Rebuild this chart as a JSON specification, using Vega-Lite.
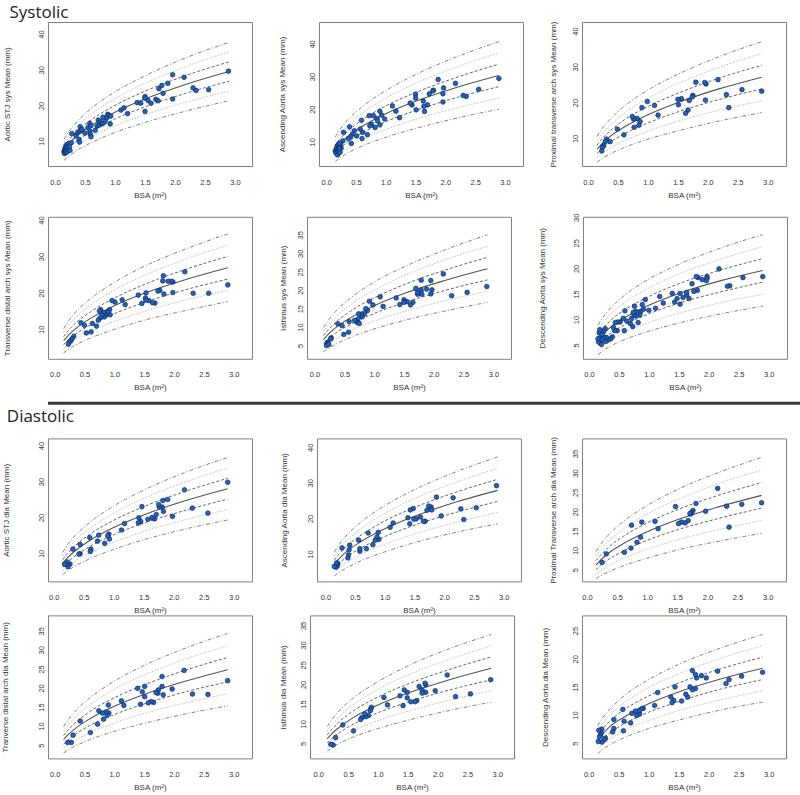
{
"$schema": "https://vega.github.io/schema/vega-lite/v6.json",
"padding": {"top": 3, "left": 0, "right": 0, "bottom": 0},
"spacing": 2.7,
"datasets": {
"curves": [
{"p":"P1","x":0.15,"u3":10.5,"u2":9.5,"u1":8.5,"m":7.6,"l1":6.6,"l2":5.6,"l3":4.6},
{"p":"P1","x":0.22,"u3":12.4,"u2":11.3,"u1":10.1,"m":9.0,"l1":7.9,"l2":6.8,"l3":5.6},
{"p":"P1","x":0.35,"u3":15.1,"u2":13.8,"u1":12.5,"m":11.2,"l1":9.8,"l2":8.5,"l3":7.2},
{"p":"P1","x":0.6,"u3":19.1,"u2":17.5,"u1":15.9,"m":14.3,"l1":12.7,"l2":11.1,"l3":9.5},
{"p":"P1","x":1.0,"u3":23.8,"u2":21.9,"u1":20.0,"m":18.1,"l1":16.2,"l2":14.3,"l3":12.4},
{"p":"P1","x":1.5,"u3":28.3,"u2":26.2,"u1":24.0,"m":21.8,"l1":19.6,"l2":17.4,"l3":15.2},
{"p":"P1","x":2.2,"u3":33.5,"u2":31.0,"u1":28.5,"m":26.0,"l1":23.5,"l2":21.0,"l3":18.5},
{"p":"P1","x":2.9,"u3":37.7,"u2":35.0,"u1":32.2,"m":29.5,"l1":26.8,"l2":24.0,"l3":21.3},
{"p":"P2","x":0.15,"u3":11.5,"u2":10.2,"u1":9.0,"m":7.8,"l1":6.5,"l2":5.3,"l3":4.0},
{"p":"P2","x":0.22,"u3":13.5,"u2":12.1,"u1":10.7,"m":9.3,"l1":7.8,"l2":6.4,"l3":5.0},
{"p":"P2","x":0.35,"u3":16.5,"u2":14.8,"u1":13.1,"m":11.5,"l1":9.8,"l2":8.1,"l3":6.5},
{"p":"P2","x":0.6,"u3":20.7,"u2":18.7,"u1":16.7,"m":14.7,"l1":12.7,"l2":10.7,"l3":8.7},
{"p":"P2","x":1.0,"u3":25.7,"u2":23.4,"u1":21.0,"m":18.6,"l1":16.2,"l2":13.8,"l3":11.4},
{"p":"P2","x":1.5,"u3":30.6,"u2":27.9,"u1":25.1,"m":22.4,"l1":19.6,"l2":16.9,"l3":14.1},
{"p":"P2","x":2.2,"u3":36.1,"u2":33.0,"u1":29.8,"m":26.7,"l1":23.6,"l2":20.4,"l3":17.3},
{"p":"P2","x":2.9,"u3":40.7,"u2":37.2,"u1":33.8,"m":30.3,"l1":26.9,"l2":23.4,"l3":20.0},
{"p":"P3","x":0.15,"u3":10.5,"u2":9.3,"u1":8.1,"m":6.9,"l1":5.8,"l2":4.6,"l3":3.4},
{"p":"P3","x":0.22,"u3":12.4,"u2":11.0,"u1":9.6,"m":8.3,"l1":6.9,"l2":5.6,"l3":4.2},
{"p":"P3","x":0.35,"u3":15.0,"u2":13.4,"u1":11.8,"m":10.3,"l1":8.7,"l2":7.1,"l3":5.5},
{"p":"P3","x":0.6,"u3":18.9,"u2":17.0,"u1":15.1,"m":13.1,"l1":11.2,"l2":9.3,"l3":7.4},
{"p":"P3","x":1.0,"u3":23.5,"u2":21.2,"u1":18.9,"m":16.6,"l1":14.3,"l2":12.0,"l3":9.8},
{"p":"P3","x":1.5,"u3":27.9,"u2":25.3,"u1":22.6,"m":20.0,"l1":17.4,"l2":14.8,"l3":12.1},
{"p":"P3","x":2.2,"u3":32.9,"u2":29.9,"u1":26.9,"m":23.9,"l1":20.9,"l2":17.9,"l3":14.9},
{"p":"P3","x":2.9,"u3":37.0,"u2":33.7,"u1":30.4,"m":27.1,"l1":23.8,"l2":20.5,"l3":17.2},
{"p":"P4","x":0.15,"u3":10.2,"u2":9.1,"u1":8.0,"m":6.9,"l1":5.8,"l2":4.7,"l3":3.5},
{"p":"P4","x":0.22,"u3":12.0,"u2":10.8,"u1":9.5,"m":8.2,"l1":7.0,"l2":5.7,"l3":4.4},
{"p":"P4","x":0.35,"u3":14.7,"u2":13.2,"u1":11.7,"m":10.2,"l1":8.7,"l2":7.2,"l3":5.7},
{"p":"P4","x":0.6,"u3":18.4,"u2":16.6,"u1":14.8,"m":13.0,"l1":11.2,"l2":9.4,"l3":7.6},
{"p":"P4","x":1.0,"u3":22.9,"u2":20.8,"u1":18.6,"m":16.5,"l1":14.3,"l2":12.2,"l3":10.0},
{"p":"P4","x":1.5,"u3":27.3,"u2":24.8,"u1":22.3,"m":19.9,"l1":17.4,"l2":14.9,"l3":12.5},
{"p":"P4","x":2.2,"u3":32.1,"u2":29.3,"u1":26.5,"m":23.7,"l1":20.9,"l2":18.1,"l3":15.2},
{"p":"P4","x":2.9,"u3":36.2,"u2":33.1,"u1":30.0,"m":26.9,"l1":23.8,"l2":20.7,"l3":17.6},
{"p":"P5","x":0.15,"u3":9.9,"u2":8.8,"u1":7.7,"m":6.6,"l1":5.5,"l2":4.4,"l3":3.3},
{"p":"P5","x":0.22,"u3":11.6,"u2":10.4,"u1":9.1,"m":7.9,"l1":6.6,"l2":5.4,"l3":4.1},
{"p":"P5","x":0.35,"u3":14.2,"u2":12.7,"u1":11.2,"m":9.8,"l1":8.3,"l2":6.8,"l3":5.3},
{"p":"P5","x":0.6,"u3":17.8,"u2":16.0,"u1":14.3,"m":12.5,"l1":10.7,"l2":9.0,"l3":7.2},
{"p":"P5","x":1.0,"u3":22.2,"u2":20.0,"u1":17.9,"m":15.8,"l1":13.7,"l2":11.6,"l3":9.5},
{"p":"P5","x":1.5,"u3":26.3,"u2":23.9,"u1":21.5,"m":19.1,"l1":16.6,"l2":14.2,"l3":11.8},
{"p":"P5","x":2.2,"u3":31.0,"u2":28.3,"u1":25.5,"m":22.7,"l1":20.0,"l2":17.2,"l3":14.4},
{"p":"P5","x":2.9,"u3":35.0,"u2":31.9,"u1":28.9,"m":25.8,"l1":22.8,"l2":19.7,"l3":16.7},
{"p":"P6","x":0.15,"u3":8.9,"u2":7.9,"u1":7.0,"m":6.0,"l1":5.0,"l2":4.1,"l3":3.1},
{"p":"P6","x":0.22,"u3":10.2,"u2":9.1,"u1":8.1,"m":7.0,"l1":5.9,"l2":4.8,"l3":3.8},
{"p":"P6","x":0.35,"u3":12.1,"u2":10.9,"u1":9.7,"m":8.4,"l1":7.2,"l2":5.9,"l3":4.7},
{"p":"P6","x":0.6,"u3":14.8,"u2":13.3,"u1":11.9,"m":10.4,"l1":9.0,"l2":7.5,"l3":6.1},
{"p":"P6","x":1.0,"u3":17.9,"u2":16.2,"u1":14.5,"m":12.8,"l1":11.1,"l2":9.4,"l3":7.7},
{"p":"P6","x":1.5,"u3":20.8,"u2":18.9,"u1":17.0,"m":15.1,"l1":13.2,"l2":11.2,"l3":9.3},
{"p":"P6","x":2.2,"u3":24.0,"u2":21.8,"u1":19.7,"m":17.6,"l1":15.4,"l2":13.3,"l3":11.1},
{"p":"P6","x":2.9,"u3":26.6,"u2":24.3,"u1":21.9,"m":19.6,"l1":17.3,"l2":14.9,"l3":12.6},
{"p":"P7","x":0.15,"u3":10.3,"u2":9.3,"u1":8.2,"m":7.2,"l1":6.1,"l2":5.1,"l3":4.0},
{"p":"P7","x":0.22,"u3":12.1,"u2":10.9,"u1":9.7,"m":8.6,"l1":7.4,"l2":6.2,"l3":5.0},
{"p":"P7","x":0.35,"u3":14.8,"u2":13.4,"u1":12.0,"m":10.6,"l1":9.2,"l2":7.8,"l3":6.4},
{"p":"P7","x":0.6,"u3":18.6,"u2":16.9,"u1":15.3,"m":13.6,"l1":11.9,"l2":10.2,"l3":8.5},
{"p":"P7","x":1.0,"u3":23.2,"u2":21.2,"u1":19.2,"m":17.2,"l1":15.2,"l2":13.1,"l3":11.1},
{"p":"P7","x":1.5,"u3":27.6,"u2":25.3,"u1":23.0,"m":20.7,"l1":18.4,"l2":16.1,"l3":13.8},
{"p":"P7","x":2.2,"u3":32.6,"u2":29.9,"u1":27.3,"m":24.7,"l1":22.0,"l2":19.4,"l3":16.8},
{"p":"P7","x":2.9,"u3":36.7,"u2":33.8,"u1":30.9,"m":28.0,"l1":25.1,"l2":22.2,"l3":19.3},
{"p":"P8","x":0.15,"u3":10.5,"u2":9.4,"u1":8.3,"m":7.2,"l1":6.0,"l2":4.9,"l3":3.8},
{"p":"P8","x":0.22,"u3":12.4,"u2":11.1,"u1":9.8,"m":8.5,"l1":7.2,"l2":6.0,"l3":4.7},
{"p":"P8","x":0.35,"u3":15.1,"u2":13.6,"u1":12.1,"m":10.6,"l1":9.1,"l2":7.5,"l3":6.0},
{"p":"P8","x":0.6,"u3":19.0,"u2":17.1,"u1":15.3,"m":13.5,"l1":11.7,"l2":9.9,"l3":8.1},
{"p":"P8","x":1.0,"u3":23.6,"u2":21.4,"u1":19.3,"m":17.1,"l1":14.9,"l2":12.8,"l3":10.6},
{"p":"P8","x":1.5,"u3":28.1,"u2":25.6,"u1":23.1,"m":20.6,"l1":18.1,"l2":15.6,"l3":13.2},
{"p":"P8","x":2.2,"u3":33.1,"u2":30.2,"u1":27.4,"m":24.6,"l1":21.7,"l2":18.9,"l3":16.1},
{"p":"P8","x":2.9,"u3":37.3,"u2":34.1,"u1":31.0,"m":27.9,"l1":24.8,"l2":21.7,"l3":18.5},
{"p":"P9","x":0.15,"u3":9.7,"u2":8.6,"u1":7.4,"m":6.2,"l1":5.0,"l2":3.9,"l3":2.7},
{"p":"P9","x":0.22,"u3":11.4,"u2":10.1,"u1":8.7,"m":7.4,"l1":6.1,"l2":4.7,"l3":3.4},
{"p":"P9","x":0.35,"u3":13.9,"u2":12.3,"u1":10.7,"m":9.2,"l1":7.6,"l2":6.0,"l3":4.4},
{"p":"P9","x":0.6,"u3":17.4,"u2":15.5,"u1":13.6,"m":11.7,"l1":9.8,"l2":7.9,"l3":6.0},
{"p":"P9","x":1.0,"u3":21.6,"u2":19.4,"u1":17.1,"m":14.8,"l1":12.6,"l2":10.3,"l3":8.0},
{"p":"P9","x":1.5,"u3":25.7,"u2":23.1,"u1":20.5,"m":17.9,"l1":15.3,"l2":12.7,"l3":10.1},
{"p":"P9","x":2.2,"u3":30.2,"u2":27.3,"u1":24.3,"m":21.3,"l1":18.3,"l2":15.4,"l3":12.4},
{"p":"P9","x":2.9,"u3":34.0,"u2":30.7,"u1":27.5,"m":24.2,"l1":20.9,"l2":17.7,"l3":14.4},
{"p":"P10","x":0.15,"u3":9.8,"u2":8.6,"u1":7.5,"m":6.4,"l1":5.2,"l2":4.1,"l3":2.9},
{"p":"P10","x":0.22,"u3":11.5,"u2":10.2,"u1":8.9,"m":7.6,"l1":6.3,"l2":5.0,"l3":3.7},
{"p":"P10","x":0.35,"u3":14.0,"u2":12.4,"u1":10.9,"m":9.4,"l1":7.9,"l2":6.3,"l3":4.8},
{"p":"P10","x":0.6,"u3":17.5,"u2":15.7,"u1":13.9,"m":12.0,"l1":10.2,"l2":8.3,"l3":6.5},
{"p":"P10","x":1.0,"u3":21.8,"u2":19.6,"u1":17.4,"m":15.2,"l1":13.0,"l2":10.8,"l3":8.6},
{"p":"P10","x":1.5,"u3":25.9,"u2":23.4,"u1":20.8,"m":18.3,"l1":15.8,"l2":13.3,"l3":10.7},
{"p":"P10","x":2.2,"u3":30.5,"u2":27.6,"u1":24.7,"m":21.8,"l1":19.0,"l2":16.1,"l3":13.2},
{"p":"P10","x":2.9,"u3":34.3,"u2":31.1,"u1":28.0,"m":24.8,"l1":21.6,"l2":18.5,"l3":15.3},
{"p":"P11","x":0.15,"u3":9.3,"u2":8.2,"u1":7.2,"m":6.2,"l1":5.1,"l2":4.1,"l3":3.1},
{"p":"P11","x":0.22,"u3":10.9,"u2":9.7,"u1":8.5,"m":7.4,"l1":6.2,"l2":5.0,"l3":3.8},
{"p":"P11","x":0.35,"u3":13.3,"u2":11.9,"u1":10.5,"m":9.1,"l1":7.7,"l2":6.3,"l3":5.0},
{"p":"P11","x":0.6,"u3":16.7,"u2":15.0,"u1":13.4,"m":11.7,"l1":10.0,"l2":8.4,"l3":6.7},
{"p":"P11","x":1.0,"u3":20.7,"u2":18.7,"u1":16.8,"m":14.8,"l1":12.8,"l2":10.8,"l3":8.8},
{"p":"P11","x":1.5,"u3":24.7,"u2":22.4,"u1":20.1,"m":17.8,"l1":15.5,"l2":13.2,"l3":10.9},
{"p":"P11","x":2.2,"u3":29.1,"u2":26.4,"u1":23.8,"m":21.2,"l1":18.6,"l2":16.0,"l3":13.4},
{"p":"P11","x":2.9,"u3":32.7,"u2":29.8,"u1":27.0,"m":24.1,"l1":21.2,"l2":18.4,"l3":15.5},
{"p":"P12","x":0.15,"u3":8.1,"u2":7.3,"u1":6.4,"m":5.6,"l1":4.8,"l2":4.0,"l3":3.1},
{"p":"P12","x":0.22,"u3":9.3,"u2":8.4,"u1":7.4,"m":6.5,"l1":5.6,"l2":4.7,"l3":3.8},
{"p":"P12","x":0.35,"u3":11.0,"u2":10.0,"u1":8.9,"m":7.9,"l1":6.8,"l2":5.7,"l3":4.7},
{"p":"P12","x":0.6,"u3":13.5,"u2":12.2,"u1":11.0,"m":9.7,"l1":8.5,"l2":7.3,"l3":6.0},
{"p":"P12","x":1.0,"u3":16.3,"u2":14.9,"u1":13.4,"m":12.0,"l1":10.5,"l2":9.0,"l3":7.6},
{"p":"P12","x":1.5,"u3":19.0,"u2":17.3,"u1":15.7,"m":14.1,"l1":12.4,"l2":10.8,"l3":9.1},
{"p":"P12","x":2.2,"u3":21.9,"u2":20.1,"u1":18.2,"m":16.4,"l1":14.6,"l2":12.7,"l3":10.9},
{"p":"P12","x":2.9,"u3":24.3,"u2":22.3,"u1":20.3,"m":18.3,"l1":16.3,"l2":14.3,"l3":12.3}
],
"pts": [
{"p":"P1","x":0.15,"y":7.0},{"p":"P1","x":0.16,"y":6.5},{"p":"P1","x":0.16,"y":7.5},{"p":"P1","x":0.17,"y":8.0},{"p":"P1","x":0.17,"y":6.8},{"p":"P1","x":0.18,"y":7.2},{"p":"P1","x":0.18,"y":8.6},{"p":"P1","x":0.19,"y":7.8},{"p":"P1","x":0.2,"y":9.0},{"p":"P1","x":0.2,"y":6.9},{"p":"P1","x":0.21,"y":8.2},{"p":"P1","x":0.22,"y":7.5},{"p":"P1","x":0.23,"y":9.2},{"p":"P1","x":0.24,"y":8.5},{"p":"P1","x":0.25,"y":7.4},{"p":"P1","x":0.27,"y":9.5},{"p":"P1","x":0.28,"y":12.1},{"p":"P1","x":0.35,"y":11.5},{"p":"P1","x":0.38,"y":12.5},{"p":"P1","x":0.4,"y":10.5},{"p":"P1","x":0.41,"y":9.7},{"p":"P1","x":0.42,"y":14.0},{"p":"P1","x":0.42,"y":12.8},{"p":"P1","x":0.45,"y":13.3},{"p":"P1","x":0.5,"y":12.2},{"p":"P1","x":0.55,"y":13.8},{"p":"P1","x":0.58,"y":15.0},{"p":"P1","x":0.58,"y":12.8},{"p":"P1","x":0.59,"y":11.9},{"p":"P1","x":0.6,"y":11.2},{"p":"P1","x":0.6,"y":14.3},{"p":"P1","x":0.67,"y":13.0},{"p":"P1","x":0.7,"y":14.2},{"p":"P1","x":0.72,"y":15.9},{"p":"P1","x":0.73,"y":14.4},{"p":"P1","x":0.75,"y":15.3},{"p":"P1","x":0.78,"y":14.8},{"p":"P1","x":0.8,"y":16.7},{"p":"P1","x":0.8,"y":15.0},{"p":"P1","x":0.84,"y":15.6},{"p":"P1","x":0.87,"y":16.6},{"p":"P1","x":0.88,"y":17.5},{"p":"P1","x":0.9,"y":17.2},{"p":"P1","x":0.92,"y":14.8},{"p":"P1","x":0.93,"y":17.0},{"p":"P1","x":1.1,"y":18.7},{"p":"P1","x":1.15,"y":19.3},{"p":"P1","x":1.21,"y":17.7},{"p":"P1","x":1.37,"y":20.8},{"p":"P1","x":1.43,"y":20.6},{"p":"P1","x":1.5,"y":22.5},{"p":"P1","x":1.5,"y":22.0},{"p":"P1","x":1.5,"y":18.3},{"p":"P1","x":1.55,"y":21.4},{"p":"P1","x":1.6,"y":20.6},{"p":"P1","x":1.68,"y":21.7},{"p":"P1","x":1.72,"y":21.3},{"p":"P1","x":1.73,"y":24.7},{"p":"P1","x":1.78,"y":25.6},{"p":"P1","x":1.8,"y":23.4},{"p":"P1","x":1.88,"y":26.2},{"p":"P1","x":1.96,"y":28.6},{"p":"P1","x":1.96,"y":21.8},{"p":"P1","x":2.15,"y":27.9},{"p":"P1","x":2.3,"y":24.9},{"p":"P1","x":2.35,"y":24.2},{"p":"P1","x":2.56,"y":24.4},{"p":"P1","x":2.89,"y":29.6},
{"p":"P2","x":2.9,"y":29.4},{"p":"P2","x":2.56,"y":26.1},{"p":"P2","x":2.35,"y":23.9},{"p":"P2","x":2.3,"y":24.2},{"p":"P2","x":2.17,"y":27.9},{"p":"P2","x":1.97,"y":26.5},{"p":"P2","x":1.96,"y":24.7},{"p":"P2","x":1.96,"y":22.2},{"p":"P2","x":1.88,"y":29.1},{"p":"P2","x":1.8,"y":25.8},{"p":"P2","x":1.79,"y":25.6},{"p":"P2","x":1.73,"y":24.7},{"p":"P2","x":1.7,"y":21.3},{"p":"P2","x":1.64,"y":20.9},{"p":"P2","x":1.65,"y":19.3},{"p":"P2","x":1.63,"y":22.5},{"p":"P2","x":1.5,"y":24.6},{"p":"P2","x":1.5,"y":23.4},{"p":"P2","x":1.51,"y":19.8},{"p":"P2","x":1.44,"y":21.3},{"p":"P2","x":1.41,"y":21.9},{"p":"P2","x":1.23,"y":17.4},{"p":"P2","x":1.17,"y":19.4},{"p":"P2","x":1.11,"y":21.0},{"p":"P2","x":0.98,"y":17.0},{"p":"P2","x":0.93,"y":18.2},{"p":"P2","x":0.9,"y":15.2},{"p":"P2","x":0.9,"y":19.4},{"p":"P2","x":0.85,"y":17.2},{"p":"P2","x":0.86,"y":16.4},{"p":"P2","x":0.82,"y":14.4},{"p":"P2","x":0.79,"y":18.0},{"p":"P2","x":0.76,"y":15.4},{"p":"P2","x":0.73,"y":14.9},{"p":"P2","x":0.72,"y":18.0},{"p":"P2","x":0.69,"y":12.2},{"p":"P2","x":0.61,"y":12.9},{"p":"P2","x":0.6,"y":11.0},{"p":"P2","x":0.59,"y":16.6},{"p":"P2","x":0.57,"y":13.9},{"p":"P2","x":0.51,"y":11.8},{"p":"P2","x":0.47,"y":13.4},{"p":"P2","x":0.44,"y":12.4},{"p":"P2","x":0.42,"y":9.5},{"p":"P2","x":0.41,"y":11.6},{"p":"P2","x":0.39,"y":14.6},{"p":"P2","x":0.37,"y":11.0},{"p":"P2","x":0.29,"y":12.9},{"p":"P2","x":0.28,"y":10.3},{"p":"P2","x":0.25,"y":8.1},{"p":"P2","x":0.24,"y":9.3},{"p":"P2","x":0.15,"y":7.2},{"p":"P2","x":0.16,"y":6.6},{"p":"P2","x":0.17,"y":8.0},{"p":"P2","x":0.18,"y":7.5},{"p":"P2","x":0.18,"y":8.6},{"p":"P2","x":0.19,"y":6.0},{"p":"P2","x":0.2,"y":9.1},{"p":"P2","x":0.2,"y":7.0},{"p":"P2","x":0.21,"y":8.3},{"p":"P2","x":0.22,"y":7.8},{"p":"P2","x":0.22,"y":9.6},{"p":"P2","x":0.23,"y":6.8},
{"p":"P3","x":2.9,"y":23.2},{"p":"P3","x":2.57,"y":23.6},{"p":"P3","x":2.35,"y":18.6},{"p":"P3","x":2.31,"y":22.2},{"p":"P3","x":2.17,"y":26.4},{"p":"P3","x":1.97,"y":25.2},{"p":"P3","x":1.95,"y":25.6},{"p":"P3","x":1.96,"y":20.7},{"p":"P3","x":1.8,"y":25.7},{"p":"P3","x":1.75,"y":22.0},{"p":"P3","x":1.74,"y":21.6},{"p":"P3","x":1.69,"y":20.6},{"p":"P3","x":1.67,"y":17.9},{"p":"P3","x":1.63,"y":17.0},{"p":"P3","x":1.56,"y":21.1},{"p":"P3","x":1.51,"y":19.4},{"p":"P3","x":1.5,"y":20.9},{"p":"P3","x":1.17,"y":16.5},{"p":"P3","x":1.11,"y":19.2},{"p":"P3","x":0.99,"y":20.3},{"p":"P3","x":0.9,"y":18.6},{"p":"P3","x":0.87,"y":14.7},{"p":"P3","x":0.85,"y":13.7},{"p":"P3","x":0.82,"y":15.6},{"p":"P3","x":0.76,"y":15.4},{"p":"P3","x":0.77,"y":13.1},{"p":"P3","x":0.74,"y":16.1},{"p":"P3","x":0.6,"y":11.0},{"p":"P3","x":0.49,"y":12.6},{"p":"P3","x":0.37,"y":9.1},{"p":"P3","x":0.31,"y":9.8},{"p":"P3","x":0.29,"y":9.1},{"p":"P3","x":0.26,"y":7.9},{"p":"P3","x":0.24,"y":7.5},{"p":"P3","x":0.23,"y":6.5},
{"p":"P4","x":2.9,"y":22.2},{"p":"P4","x":2.58,"y":19.9},{"p":"P4","x":2.32,"y":19.9},{"p":"P4","x":2.18,"y":25.8},{"p":"P4","x":1.98,"y":23.0},{"p":"P4","x":1.96,"y":23.2},{"p":"P4","x":1.98,"y":20.1},{"p":"P4","x":1.9,"y":23.2},{"p":"P4","x":1.82,"y":24.7},{"p":"P4","x":1.81,"y":23.3},{"p":"P4","x":1.83,"y":19.7},{"p":"P4","x":1.76,"y":20.7},{"p":"P4","x":1.73,"y":20.5},{"p":"P4","x":1.68,"y":17.2},{"p":"P4","x":1.64,"y":17.3},{"p":"P4","x":1.58,"y":17.9},{"p":"P4","x":1.53,"y":20.0},{"p":"P4","x":1.52,"y":18.6},{"p":"P4","x":1.53,"y":18.0},{"p":"P4","x":1.46,"y":17.1},{"p":"P4","x":1.4,"y":19.4},{"p":"P4","x":1.18,"y":16.8},{"p":"P4","x":1.13,"y":18.1},{"p":"P4","x":1.01,"y":17.5},{"p":"P4","x":0.96,"y":17.9},{"p":"P4","x":0.93,"y":14.0},{"p":"P4","x":0.92,"y":15.4},{"p":"P4","x":0.89,"y":14.8},{"p":"P4","x":0.86,"y":13.9},{"p":"P4","x":0.83,"y":13.4},{"p":"P4","x":0.82,"y":14.6},{"p":"P4","x":0.79,"y":13.9},{"p":"P4","x":0.77,"y":15.4},{"p":"P4","x":0.75,"y":15.0},{"p":"P4","x":0.76,"y":13.1},{"p":"P4","x":0.73,"y":12.5},{"p":"P4","x":0.7,"y":10.9},{"p":"P4","x":0.63,"y":11.6},{"p":"P4","x":0.61,"y":9.3},{"p":"P4","x":0.53,"y":9.0},{"p":"P4","x":0.5,"y":11.1},{"p":"P4","x":0.44,"y":11.8},{"p":"P4","x":0.32,"y":8.1},{"p":"P4","x":0.29,"y":7.4},{"p":"P4","x":0.27,"y":6.8},{"p":"P4","x":0.24,"y":6.5},{"p":"P4","x":0.23,"y":5.9},
{"p":"P5","x":2.89,"y":21.0},{"p":"P5","x":2.56,"y":19.4},{"p":"P5","x":2.3,"y":18.5},{"p":"P5","x":2.16,"y":24.4},{"p":"P5","x":1.97,"y":20.1},{"p":"P5","x":1.95,"y":22.6},{"p":"P5","x":1.95,"y":19.0},{"p":"P5","x":1.88,"y":20.3},{"p":"P5","x":1.79,"y":22.7},{"p":"P5","x":1.79,"y":20.0},{"p":"P5","x":1.8,"y":18.9},{"p":"P5","x":1.73,"y":18.9},{"p":"P5","x":1.73,"y":19.4},{"p":"P5","x":1.7,"y":20.5},{"p":"P5","x":1.65,"y":16.7},{"p":"P5","x":1.61,"y":16.0},{"p":"P5","x":1.55,"y":16.9},{"p":"P5","x":1.5,"y":17.4},{"p":"P5","x":1.5,"y":16.7},{"p":"P5","x":1.43,"y":16.1},{"p":"P5","x":1.37,"y":17.9},{"p":"P5","x":1.15,"y":15.6},{"p":"P5","x":1.1,"y":18.2},{"p":"P5","x":0.98,"y":16.0},{"p":"P5","x":0.92,"y":17.0},{"p":"P5","x":0.89,"y":14.5},{"p":"P5","x":0.86,"y":15.0},{"p":"P5","x":0.84,"y":13.6},{"p":"P5","x":0.8,"y":12.8},{"p":"P5","x":0.78,"y":13.4},{"p":"P5","x":0.74,"y":13.6},{"p":"P5","x":0.73,"y":12.2},{"p":"P5","x":0.71,"y":11.3},{"p":"P5","x":0.75,"y":11.0},{"p":"P5","x":0.67,"y":11.8},{"p":"P5","x":0.58,"y":11.5},{"p":"P5","x":0.57,"y":8.6},{"p":"P5","x":0.49,"y":8.0},{"p":"P5","x":0.46,"y":10.4},{"p":"P5","x":0.39,"y":10.9},{"p":"P5","x":0.28,"y":7.1},{"p":"P5","x":0.27,"y":6.8},{"p":"P5","x":0.22,"y":5.9},{"p":"P5","x":0.21,"y":5.5},{"p":"P5","x":0.2,"y":5.0},{"p":"P5","x":0.24,"y":5.3},
{"p":"P6","x":2.9,"y":18.4},{"p":"P6","x":2.57,"y":18.2},{"p":"P6","x":2.35,"y":16.6},{"p":"P6","x":2.31,"y":16.5},{"p":"P6","x":2.17,"y":19.9},{"p":"P6","x":1.97,"y":18.4},{"p":"P6","x":1.97,"y":18.0},{"p":"P6","x":1.96,"y":17.6},{"p":"P6","x":1.89,"y":17.8},{"p":"P6","x":1.82,"y":18.2},{"p":"P6","x":1.79,"y":18.4},{"p":"P6","x":1.81,"y":15.7},{"p":"P6","x":1.75,"y":15.5},{"p":"P6","x":1.72,"y":17.0},{"p":"P6","x":1.67,"y":14.1},{"p":"P6","x":1.63,"y":14.8},{"p":"P6","x":1.63,"y":15.3},{"p":"P6","x":1.57,"y":14.3},{"p":"P6","x":1.52,"y":15.1},{"p":"P6","x":1.52,"y":13.0},{"p":"P6","x":1.47,"y":14.1},{"p":"P6","x":1.43,"y":13.4},{"p":"P6","x":1.39,"y":15.1},{"p":"P6","x":1.24,"y":13.2},{"p":"P6","x":1.18,"y":14.5},{"p":"P6","x":1.11,"y":12.2},{"p":"P6","x":1.0,"y":11.8},{"p":"P6","x":0.94,"y":13.9},{"p":"P6","x":0.91,"y":12.0},{"p":"P6","x":0.89,"y":12.9},{"p":"P6","x":0.86,"y":11.5},{"p":"P6","x":0.85,"y":10.9},{"p":"P6","x":0.82,"y":9.4},{"p":"P6","x":0.79,"y":10.7},{"p":"P6","x":0.78,"y":11.6},{"p":"P6","x":0.76,"y":12.6},{"p":"P6","x":0.75,"y":10.9},{"p":"P6","x":0.74,"y":11.4},{"p":"P6","x":0.73,"y":8.6},{"p":"P6","x":0.71,"y":10.2},{"p":"P6","x":0.69,"y":9.2},{"p":"P6","x":0.63,"y":9.7},{"p":"P6","x":0.6,"y":11.7},{"p":"P6","x":0.59,"y":7.8},{"p":"P6","x":0.57,"y":10.2},{"p":"P6","x":0.52,"y":9.5},{"p":"P6","x":0.48,"y":9.5},{"p":"P6","x":0.47,"y":7.8},{"p":"P6","x":0.44,"y":9.4},{"p":"P6","x":0.43,"y":7.8},{"p":"P6","x":0.41,"y":8.4},{"p":"P6","x":0.39,"y":6.6},{"p":"P6","x":0.36,"y":6.2},{"p":"P6","x":0.32,"y":6.0},{"p":"P6","x":0.29,"y":6.5},{"p":"P6","x":0.28,"y":5.7},{"p":"P6","x":0.25,"y":6.5},{"p":"P6","x":0.27,"y":8.2},{"p":"P6","x":0.24,"y":7.6},{"p":"P6","x":0.17,"y":7.4},{"p":"P6","x":0.18,"y":6.4},{"p":"P6","x":0.19,"y":5.4},{"p":"P6","x":0.16,"y":5.6},{"p":"P6","x":0.21,"y":6.1},{"p":"P6","x":0.22,"y":7.1},{"p":"P6","x":0.18,"y":8.0},{"p":"P6","x":0.15,"y":6.2},{"p":"P6","x":0.21,"y":5.1},
{"p":"P7","x":2.9,"y":29.8},{"p":"P7","x":2.57,"y":21.2},{"p":"P7","x":2.31,"y":22.6},{"p":"P7","x":2.18,"y":27.7},{"p":"P7","x":1.98,"y":20.3},{"p":"P7","x":1.9,"y":25.0},{"p":"P7","x":1.82,"y":24.7},{"p":"P7","x":1.83,"y":21.7},{"p":"P7","x":1.81,"y":22.9},{"p":"P7","x":1.76,"y":22.9},{"p":"P7","x":1.75,"y":23.6},{"p":"P7","x":1.71,"y":20.8},{"p":"P7","x":1.68,"y":19.6},{"p":"P7","x":1.64,"y":20.0},{"p":"P7","x":1.57,"y":19.5},{"p":"P7","x":1.47,"y":23.0},{"p":"P7","x":1.45,"y":18.9},{"p":"P7","x":1.42,"y":19.9},{"p":"P7","x":1.41,"y":18.5},{"p":"P7","x":1.18,"y":18.3},{"p":"P7","x":1.13,"y":16.5},{"p":"P7","x":0.93,"y":14.0},{"p":"P7","x":0.92,"y":15.4},{"p":"P7","x":0.9,"y":14.9},{"p":"P7","x":0.85,"y":12.8},{"p":"P7","x":0.75,"y":15.1},{"p":"P7","x":0.73,"y":13.4},{"p":"P7","x":0.62,"y":11.2},{"p":"P7","x":0.61,"y":10.5},{"p":"P7","x":0.6,"y":14.4},{"p":"P7","x":0.44,"y":12.5},{"p":"P7","x":0.44,"y":9.9},{"p":"P7","x":0.42,"y":9.8},{"p":"P7","x":0.32,"y":11.2},{"p":"P7","x":0.27,"y":7.0},{"p":"P7","x":0.24,"y":6.3},{"p":"P7","x":0.23,"y":7.6},{"p":"P7","x":0.21,"y":6.9},{"p":"P7","x":0.18,"y":7.0},
{"p":"P8","x":2.88,"y":29.2},{"p":"P8","x":2.54,"y":23.0},{"p":"P8","x":2.33,"y":19.7},{"p":"P8","x":2.28,"y":22.7},{"p":"P8","x":2.15,"y":25.8},{"p":"P8","x":1.95,"y":20.7},{"p":"P8","x":1.87,"y":26.0},{"p":"P8","x":1.78,"y":23.2},{"p":"P8","x":1.79,"y":22.4},{"p":"P8","x":1.74,"y":23.5},{"p":"P8","x":1.71,"y":22.3},{"p":"P8","x":1.68,"y":19.2},{"p":"P8","x":1.65,"y":19.2},{"p":"P8","x":1.6,"y":20.4},{"p":"P8","x":1.53,"y":19.9},{"p":"P8","x":1.49,"y":19.8},{"p":"P8","x":1.48,"y":22.8},{"p":"P8","x":1.43,"y":22.4},{"p":"P8","x":1.42,"y":18.5},{"p":"P8","x":1.39,"y":20.2},{"p":"P8","x":1.14,"y":18.7},{"p":"P8","x":1.09,"y":17.5},{"p":"P8","x":0.89,"y":16.1},{"p":"P8","x":0.9,"y":14.1},{"p":"P8","x":0.87,"y":14.8},{"p":"P8","x":0.84,"y":13.9},{"p":"P8","x":0.8,"y":12.6},{"p":"P8","x":0.72,"y":15.9},{"p":"P8","x":0.69,"y":11.5},{"p":"P8","x":0.58,"y":10.8},{"p":"P8","x":0.58,"y":11.5},{"p":"P8","x":0.56,"y":13.9},{"p":"P8","x":0.41,"y":12.5},{"p":"P8","x":0.4,"y":11.2},{"p":"P8","x":0.39,"y":9.8},{"p":"P8","x":0.38,"y":8.9},{"p":"P8","x":0.28,"y":11.7},{"p":"P8","x":0.21,"y":7.3},{"p":"P8","x":0.2,"y":6.7},{"p":"P8","x":0.18,"y":6.3},{"p":"P8","x":0.15,"y":6.5},{"p":"P8","x":0.19,"y":7.5},
{"p":"P9","x":2.9,"y":22.3},{"p":"P9","x":2.57,"y":21.9},{"p":"P9","x":2.36,"y":16.0},{"p":"P9","x":2.32,"y":21.4},{"p":"P9","x":2.17,"y":26.0},{"p":"P9","x":1.97,"y":20.1},{"p":"P9","x":1.81,"y":22.1},{"p":"P9","x":1.76,"y":20.3},{"p":"P9","x":1.74,"y":19.8},{"p":"P9","x":1.72,"y":19.4},{"p":"P9","x":1.71,"y":19.5},{"p":"P9","x":1.68,"y":17.7},{"p":"P9","x":1.63,"y":17.1},{"p":"P9","x":1.57,"y":17.3},{"p":"P9","x":1.52,"y":16.9},{"p":"P9","x":1.47,"y":21.3},{"p":"P9","x":1.18,"y":15.6},{"p":"P9","x":1.13,"y":17.5},{"p":"P9","x":0.91,"y":17.3},{"p":"P9","x":0.89,"y":13.4},{"p":"P9","x":0.83,"y":12.1},{"p":"P9","x":0.74,"y":16.5},{"p":"P9","x":0.73,"y":10.6},{"p":"P9","x":0.62,"y":9.5},{"p":"P9","x":0.32,"y":9.1},{"p":"P9","x":0.25,"y":6.9},
{"p":"P10","x":2.9,"y":21.9},{"p":"P10","x":2.57,"y":18.3},{"p":"P10","x":2.31,"y":18.4},{"p":"P10","x":2.17,"y":24.6},{"p":"P10","x":1.97,"y":19.7},{"p":"P10","x":1.82,"y":18.2},{"p":"P10","x":1.8,"y":20.4},{"p":"P10","x":1.8,"y":23.0},{"p":"P10","x":1.74,"y":19.5},{"p":"P10","x":1.73,"y":18.6},{"p":"P10","x":1.7,"y":18.8},{"p":"P10","x":1.66,"y":16.2},{"p":"P10","x":1.62,"y":16.4},{"p":"P10","x":1.57,"y":16.1},{"p":"P10","x":1.51,"y":17.7},{"p":"P10","x":1.51,"y":20.4},{"p":"P10","x":1.47,"y":19.0},{"p":"P10","x":1.44,"y":15.7},{"p":"P10","x":1.39,"y":19.9},{"p":"P10","x":1.16,"y":15.4},{"p":"P10","x":1.12,"y":16.6},{"p":"P10","x":0.91,"y":13.4},{"p":"P10","x":0.9,"y":15.5},{"p":"P10","x":0.88,"y":12.8},{"p":"P10","x":0.86,"y":13.7},{"p":"P10","x":0.82,"y":11.8},{"p":"P10","x":0.8,"y":13.4},{"p":"P10","x":0.74,"y":14.0},{"p":"P10","x":0.72,"y":10.5},{"p":"P10","x":0.6,"y":8.3},{"p":"P10","x":0.43,"y":11.3},{"p":"P10","x":0.31,"y":7.6},{"p":"P10","x":0.28,"y":5.7},{"p":"P10","x":0.22,"y":5.7},
{"p":"P11","x":2.89,"y":21.2},{"p":"P11","x":2.55,"y":17.6},{"p":"P11","x":2.3,"y":16.9},{"p":"P11","x":2.16,"y":22.4},{"p":"P11","x":1.96,"y":18.4},{"p":"P11","x":1.8,"y":19.9},{"p":"P11","x":1.8,"y":18.0},{"p":"P11","x":1.79,"y":20.3},{"p":"P11","x":1.74,"y":18.6},{"p":"P11","x":1.74,"y":17.8},{"p":"P11","x":1.69,"y":19.5},{"p":"P11","x":1.65,"y":15.9},{"p":"P11","x":1.62,"y":15.6},{"p":"P11","x":1.55,"y":15.6},{"p":"P11","x":1.49,"y":16.6},{"p":"P11","x":1.49,"y":18.0},{"p":"P11","x":1.44,"y":18.6},{"p":"P11","x":1.42,"y":14.6},{"p":"P11","x":1.37,"y":17.1},{"p":"P11","x":1.16,"y":14.8},{"p":"P11","x":1.1,"y":16.7},{"p":"P11","x":0.89,"y":14.2},{"p":"P11","x":0.88,"y":13.8},{"p":"P11","x":0.87,"y":13.3},{"p":"P11","x":0.84,"y":12.1},{"p":"P11","x":0.8,"y":11.8},{"p":"P11","x":0.78,"y":12.5},{"p":"P11","x":0.73,"y":11.6},{"p":"P11","x":0.71,"y":11.1},{"p":"P11","x":0.59,"y":8.2},{"p":"P11","x":0.41,"y":9.7},{"p":"P11","x":0.29,"y":6.5},{"p":"P11","x":0.25,"y":4.6},{"p":"P11","x":0.21,"y":4.8},
{"p":"P12","x":2.9,"y":17.6},{"p":"P12","x":2.55,"y":16.9},{"p":"P12","x":2.34,"y":16.3},{"p":"P12","x":2.29,"y":15.6},{"p":"P12","x":2.15,"y":17.8},{"p":"P12","x":1.96,"y":16.6},{"p":"P12","x":1.88,"y":17.0},{"p":"P12","x":1.8,"y":16.6},{"p":"P12","x":1.78,"y":17.2},{"p":"P12","x":1.78,"y":14.7},{"p":"P12","x":1.73,"y":17.9},{"p":"P12","x":1.73,"y":14.5},{"p":"P12","x":1.69,"y":15.0},{"p":"P12","x":1.65,"y":13.2},{"p":"P12","x":1.62,"y":13.7},{"p":"P12","x":1.55,"y":12.5},{"p":"P12","x":1.44,"y":15.0},{"p":"P12","x":1.42,"y":12.6},{"p":"P12","x":1.39,"y":12.2},{"p":"P12","x":1.37,"y":13.2},{"p":"P12","x":1.15,"y":14.0},{"p":"P12","x":1.1,"y":11.7},{"p":"P12","x":0.91,"y":11.2},{"p":"P12","x":0.88,"y":11.1},{"p":"P12","x":0.85,"y":10.2},{"p":"P12","x":0.84,"y":10.8},{"p":"P12","x":0.8,"y":9.9},{"p":"P12","x":0.78,"y":10.7},{"p":"P12","x":0.72,"y":10.3},{"p":"P12","x":0.7,"y":8.6},{"p":"P12","x":0.59,"y":8.9},{"p":"P12","x":0.58,"y":7.2},{"p":"P12","x":0.57,"y":11.0},{"p":"P12","x":0.42,"y":9.2},{"p":"P12","x":0.42,"y":7.6},{"p":"P12","x":0.4,"y":7.0},{"p":"P12","x":0.28,"y":5.9},{"p":"P12","x":0.26,"y":5.6},{"p":"P12","x":0.22,"y":5.2},{"p":"P12","x":0.22,"y":7.5},{"p":"P12","x":0.21,"y":6.8},{"p":"P12","x":0.2,"y":6.4},{"p":"P12","x":0.18,"y":6.1},{"p":"P12","x":0.17,"y":7.3},{"p":"P12","x":0.16,"y":5.3}
]
},
"vconcat": [
{"title": {"text": "Systolic", "offset": -1, "dx": 7}, "spacing": 11.8, "vconcat": [
 {"spacing": 25, "hconcat": [
  {"width":204,"height":144,
   "encoding":{"x":{"field":"x","type":"quantitative","scale":{"domain":[-0.116,3.282],"nice":false,"zero":false},"axis":{"values":[0,0.5,1,1.5,2,2.5,3],"format":".1f","title":"BSA (m²)"}},
               "y":{"field":"y","type":"quantitative","scale":{"domain":[3,43.4],"nice":false,"zero":false},"axis":{"values":[10,20,30,40],"title":"Aortic STJ sys Mean (mm)","titlePadding":26}}},
   "layer":[
    {"data":{"name":"curves"},"transform":[{"filter":"datum.p=='P1'"},{"fold":["u3","l3"],"as":["k","y"]}],"mark":{"type":"line","interpolate":"monotone","color":"#666","strokeWidth":0.8,"strokeDash":[4,2,1,2]},"encoding":{"detail":{"field":"k"}}},
    {"data":{"name":"curves"},"transform":[{"filter":"datum.p=='P1'"},{"fold":["u2","l2"],"as":["k","y"]}],"mark":{"type":"line","interpolate":"monotone","color":"#b5b5b5","strokeWidth":0.9,"strokeDash":[1.5,1.5]},"encoding":{"detail":{"field":"k"}}},
    {"data":{"name":"curves"},"transform":[{"filter":"datum.p=='P1'"},{"fold":["u1","l1"],"as":["k","y"]}],"mark":{"type":"line","interpolate":"monotone","color":"#555","strokeWidth":0.9,"strokeDash":[3,2]},"encoding":{"detail":{"field":"k"}}},
    {"data":{"name":"curves"},"transform":[{"filter":"datum.p=='P1'"},{"fold":["m"],"as":["k","y"]}],"mark":{"type":"line","interpolate":"monotone","color":"#555","strokeWidth":1.1},"encoding":{}},
    {"data":{"name":"pts"},"transform":[{"filter":"datum.p=='P1'"}],"mark":{"type":"circle","size":22,"fill":"#1f62c4","stroke":"#0e1e3a","strokeWidth":0.6,"opacity":1}}
   ]},
  {"width":204,"height":144,
   "encoding":{"x":{"field":"x","type":"quantitative","scale":{"domain":[-0.123,3.305],"nice":false,"zero":false},"axis":{"values":[0,0.5,1,1.5,2,2.5,3],"format":".1f","title":"BSA (m²)"}},
               "y":{"field":"y","type":"quantitative","scale":{"domain":[2.6,46.7],"nice":false,"zero":false},"axis":{"values":[10,20,30,40],"title":"Ascending Aorta sys Mean (mm)","titlePadding":21.3}}},
   "layer":[
    {"data":{"name":"curves"},"transform":[{"filter":"datum.p=='P2'"},{"fold":["u3","l3"],"as":["k","y"]}],"mark":{"type":"line","interpolate":"monotone","color":"#666","strokeWidth":0.8,"strokeDash":[4,2,1,2]},"encoding":{"detail":{"field":"k"}}},
    {"data":{"name":"curves"},"transform":[{"filter":"datum.p=='P2'"},{"fold":["u2","l2"],"as":["k","y"]}],"mark":{"type":"line","interpolate":"monotone","color":"#b5b5b5","strokeWidth":0.9,"strokeDash":[1.5,1.5]},"encoding":{"detail":{"field":"k"}}},
    {"data":{"name":"curves"},"transform":[{"filter":"datum.p=='P2'"},{"fold":["u1","l1"],"as":["k","y"]}],"mark":{"type":"line","interpolate":"monotone","color":"#555","strokeWidth":0.9,"strokeDash":[3,2]},"encoding":{"detail":{"field":"k"}}},
    {"data":{"name":"curves"},"transform":[{"filter":"datum.p=='P2'"},{"fold":["m"],"as":["k","y"]}],"mark":{"type":"line","interpolate":"monotone","color":"#555","strokeWidth":1.1},"encoding":{}},
    {"data":{"name":"pts"},"transform":[{"filter":"datum.p=='P2'"}],"mark":{"type":"circle","size":22,"fill":"#1f62c4","stroke":"#0e1e3a","strokeWidth":0.6,"opacity":1}}
   ]},
  {"width":204,"height":144,
   "encoding":{"x":{"field":"x","type":"quantitative","scale":{"domain":[-0.1,3.305],"nice":false,"zero":false},"axis":{"values":[0,0.5,1,1.5,2,2.5,3],"format":".1f","title":"BSA (m²)"}},
               "y":{"field":"y","type":"quantitative","scale":{"domain":[2.3,42.5],"nice":false,"zero":false},"axis":{"values":[10,20,30,40],"title":"Proximal transverse arch sys Mean (mm)","titlePadding":13.4}}},
   "layer":[
    {"data":{"name":"curves"},"transform":[{"filter":"datum.p=='P3'"},{"fold":["u3","l3"],"as":["k","y"]}],"mark":{"type":"line","interpolate":"monotone","color":"#666","strokeWidth":0.8,"strokeDash":[4,2,1,2]},"encoding":{"detail":{"field":"k"}}},
    {"data":{"name":"curves"},"transform":[{"filter":"datum.p=='P3'"},{"fold":["u2","l2"],"as":["k","y"]}],"mark":{"type":"line","interpolate":"monotone","color":"#b5b5b5","strokeWidth":0.9,"strokeDash":[1.5,1.5]},"encoding":{"detail":{"field":"k"}}},
    {"data":{"name":"curves"},"transform":[{"filter":"datum.p=='P3'"},{"fold":["u1","l1"],"as":["k","y"]}],"mark":{"type":"line","interpolate":"monotone","color":"#555","strokeWidth":0.9,"strokeDash":[3,2]},"encoding":{"detail":{"field":"k"}}},
    {"data":{"name":"curves"},"transform":[{"filter":"datum.p=='P3'"},{"fold":["m"],"as":["k","y"]}],"mark":{"type":"line","interpolate":"monotone","color":"#555","strokeWidth":1.1},"encoding":{}},
    {"data":{"name":"pts"},"transform":[{"filter":"datum.p=='P3'"}],"mark":{"type":"circle","size":22,"fill":"#1f62c4","stroke":"#0e1e3a","strokeWidth":0.6,"opacity":1}}
   ]}
 ]},
 {"spacing": 25, "hconcat": [
  {"width":204,"height":142,
   "encoding":{"x":{"field":"x","type":"quantitative","scale":{"domain":[-0.112,3.305],"nice":false,"zero":false},"axis":{"values":[0,0.5,1,1.5,2,2.5,3],"format":".1f","title":"BSA (m²)"}},
               "y":{"field":"y","type":"quantitative","scale":{"domain":[1.9,40.9],"nice":false,"zero":false},"axis":{"values":[10,20,30,40],"title":"Transverse distal arch sys Mean (mm)","titlePadding":26}}},
   "layer":[
    {"data":{"name":"curves"},"transform":[{"filter":"datum.p=='P4'"},{"fold":["u3","l3"],"as":["k","y"]}],"mark":{"type":"line","interpolate":"monotone","color":"#666","strokeWidth":0.8,"strokeDash":[4,2,1,2]},"encoding":{"detail":{"field":"k"}}},
    {"data":{"name":"curves"},"transform":[{"filter":"datum.p=='P4'"},{"fold":["u2","l2"],"as":["k","y"]}],"mark":{"type":"line","interpolate":"monotone","color":"#b5b5b5","strokeWidth":0.9,"strokeDash":[1.5,1.5]},"encoding":{"detail":{"field":"k"}}},
    {"data":{"name":"curves"},"transform":[{"filter":"datum.p=='P4'"},{"fold":["u1","l1"],"as":["k","y"]}],"mark":{"type":"line","interpolate":"monotone","color":"#555","strokeWidth":0.9,"strokeDash":[3,2]},"encoding":{"detail":{"field":"k"}}},
    {"data":{"name":"curves"},"transform":[{"filter":"datum.p=='P4'"},{"fold":["m"],"as":["k","y"]}],"mark":{"type":"line","interpolate":"monotone","color":"#555","strokeWidth":1.1},"encoding":{}},
    {"data":{"name":"pts"},"transform":[{"filter":"datum.p=='P4'"}],"mark":{"type":"circle","size":22,"fill":"#1f62c4","stroke":"#0e1e3a","strokeWidth":0.6,"opacity":1}}
   ]},
  {"width":204,"height":142,
   "encoding":{"x":{"field":"x","type":"quantitative","scale":{"domain":[-0.127,3.296],"nice":false,"zero":false},"axis":{"values":[0,0.5,1,1.5,2,2.5,3],"format":".1f","title":"BSA (m²)"}},
               "y":{"field":"y","type":"quantitative","scale":{"domain":[1.4,39.9],"nice":false,"zero":false},"axis":{"values":[5,10,15,20,25,30,35],"title":"Isthmus sys Mean (mm)","titlePadding":8.7}}},
   "layer":[
    {"data":{"name":"curves"},"transform":[{"filter":"datum.p=='P5'"},{"fold":["u3","l3"],"as":["k","y"]}],"mark":{"type":"line","interpolate":"monotone","color":"#666","strokeWidth":0.8,"strokeDash":[4,2,1,2]},"encoding":{"detail":{"field":"k"}}},
    {"data":{"name":"curves"},"transform":[{"filter":"datum.p=='P5'"},{"fold":["u2","l2"],"as":["k","y"]}],"mark":{"type":"line","interpolate":"monotone","color":"#b5b5b5","strokeWidth":0.9,"strokeDash":[1.5,1.5]},"encoding":{"detail":{"field":"k"}}},
    {"data":{"name":"curves"},"transform":[{"filter":"datum.p=='P5'"},{"fold":["u1","l1"],"as":["k","y"]}],"mark":{"type":"line","interpolate":"monotone","color":"#555","strokeWidth":0.9,"strokeDash":[3,2]},"encoding":{"detail":{"field":"k"}}},
    {"data":{"name":"curves"},"transform":[{"filter":"datum.p=='P5'"},{"fold":["m"],"as":["k","y"]}],"mark":{"type":"line","interpolate":"monotone","color":"#555","strokeWidth":1.1},"encoding":{}},
    {"data":{"name":"pts"},"transform":[{"filter":"datum.p=='P5'"}],"mark":{"type":"circle","size":22,"fill":"#1f62c4","stroke":"#0e1e3a","strokeWidth":0.6,"opacity":1}}
   ]},
  {"width":204,"height":142,
   "encoding":{"x":{"field":"x","type":"quantitative","scale":{"domain":[-0.1,3.305],"nice":false,"zero":false},"axis":{"values":[0,0.5,1,1.5,2,2.5,3],"format":".1f","title":"BSA (m²)"}},
               "y":{"field":"y","type":"quantitative","scale":{"domain":[2.3,30.1],"nice":false,"zero":false},"axis":{"values":[5,10,15,20,25,30],"title":"Descending Aorta sys Mean (mm)","titlePadding":26}}},
   "layer":[
    {"data":{"name":"curves"},"transform":[{"filter":"datum.p=='P6'"},{"fold":["u3","l3"],"as":["k","y"]}],"mark":{"type":"line","interpolate":"monotone","color":"#666","strokeWidth":0.8,"strokeDash":[4,2,1,2]},"encoding":{"detail":{"field":"k"}}},
    {"data":{"name":"curves"},"transform":[{"filter":"datum.p=='P6'"},{"fold":["u2","l2"],"as":["k","y"]}],"mark":{"type":"line","interpolate":"monotone","color":"#b5b5b5","strokeWidth":0.9,"strokeDash":[1.5,1.5]},"encoding":{"detail":{"field":"k"}}},
    {"data":{"name":"curves"},"transform":[{"filter":"datum.p=='P6'"},{"fold":["u1","l1"],"as":["k","y"]}],"mark":{"type":"line","interpolate":"monotone","color":"#555","strokeWidth":0.9,"strokeDash":[3,2]},"encoding":{"detail":{"field":"k"}}},
    {"data":{"name":"curves"},"transform":[{"filter":"datum.p=='P6'"},{"fold":["m"],"as":["k","y"]}],"mark":{"type":"line","interpolate":"monotone","color":"#555","strokeWidth":1.1},"encoding":{}},
    {"data":{"name":"pts"},"transform":[{"filter":"datum.p=='P6'"}],"mark":{"type":"circle","size":22,"fill":"#1f62c4","stroke":"#0e1e3a","strokeWidth":0.6,"opacity":1}}
   ]}
 ]}
]},
{"width": 800, "height": 9, "view": {"stroke": null}, "data": {"values": [{}]},
 "mark": {"type": "rect", "color": "#3a3a3a"},
 "encoding": {"x": {"datum": 0, "type": "quantitative", "scale": {"domain": [0, 1]}, "axis": null}, "x2": {"datum": 1},
              "y": {"datum": 0, "type": "quantitative", "scale": {"domain": [0, 1]}, "axis": null}, "y2": {"datum": 0.333}}},
{"title": {"text": "Diastolic", "offset": 9.7, "dx": 6}, "spacing": -1.6, "vconcat": [
 {"spacing": 27, "hconcat": [
  {"width":204,"height":143,
   "encoding":{"x":{"field":"x","type":"quantitative","scale":{"domain":[-0.095,3.305],"nice":false,"zero":false},"axis":{"values":[0,0.5,1,1.5,2,2.5,3],"format":".1f","title":"BSA (m²)"}},
               "y":{"field":"y","type":"quantitative","scale":{"domain":[2.2,42],"nice":false,"zero":false},"axis":{"values":[10,20,30,40],"title":"Aortic STJ dia Mean (mm)","titlePadding":27}}},
   "layer":[
    {"data":{"name":"curves"},"transform":[{"filter":"datum.p=='P7'"},{"fold":["u3","l3"],"as":["k","y"]}],"mark":{"type":"line","interpolate":"monotone","color":"#666","strokeWidth":0.8,"strokeDash":[4,2,1,2]},"encoding":{"detail":{"field":"k"}}},
    {"data":{"name":"curves"},"transform":[{"filter":"datum.p=='P7'"},{"fold":["u2","l2"],"as":["k","y"]}],"mark":{"type":"line","interpolate":"monotone","color":"#b5b5b5","strokeWidth":0.9,"strokeDash":[1.5,1.5]},"encoding":{"detail":{"field":"k"}}},
    {"data":{"name":"curves"},"transform":[{"filter":"datum.p=='P7'"},{"fold":["u1","l1"],"as":["k","y"]}],"mark":{"type":"line","interpolate":"monotone","color":"#555","strokeWidth":0.9,"strokeDash":[3,2]},"encoding":{"detail":{"field":"k"}}},
    {"data":{"name":"curves"},"transform":[{"filter":"datum.p=='P7'"},{"fold":["m"],"as":["k","y"]}],"mark":{"type":"line","interpolate":"monotone","color":"#555","strokeWidth":1.1},"encoding":{}},
    {"data":{"name":"pts"},"transform":[{"filter":"datum.p=='P7'"}],"mark":{"type":"circle","size":22,"fill":"#1f62c4","stroke":"#0e1e3a","strokeWidth":0.6,"opacity":1}}
   ]},
  {"width":204,"height":143,
   "encoding":{"x":{"field":"x","type":"quantitative","scale":{"domain":[-0.141,3.293],"nice":false,"zero":false},"axis":{"values":[0,0.5,1,1.5,2,2.5,3],"format":".1f","title":"BSA (m²)"}},
               "y":{"field":"y","type":"quantitative","scale":{"domain":[2.3,42.5],"nice":false,"zero":false},"axis":{"values":[10,20,30,40],"title":"Ascending Aorta dia Mean (mm)","titlePadding":17.3}}},
   "layer":[
    {"data":{"name":"curves"},"transform":[{"filter":"datum.p=='P8'"},{"fold":["u3","l3"],"as":["k","y"]}],"mark":{"type":"line","interpolate":"monotone","color":"#666","strokeWidth":0.8,"strokeDash":[4,2,1,2]},"encoding":{"detail":{"field":"k"}}},
    {"data":{"name":"curves"},"transform":[{"filter":"datum.p=='P8'"},{"fold":["u2","l2"],"as":["k","y"]}],"mark":{"type":"line","interpolate":"monotone","color":"#b5b5b5","strokeWidth":0.9,"strokeDash":[1.5,1.5]},"encoding":{"detail":{"field":"k"}}},
    {"data":{"name":"curves"},"transform":[{"filter":"datum.p=='P8'"},{"fold":["u1","l1"],"as":["k","y"]}],"mark":{"type":"line","interpolate":"monotone","color":"#555","strokeWidth":0.9,"strokeDash":[3,2]},"encoding":{"detail":{"field":"k"}}},
    {"data":{"name":"curves"},"transform":[{"filter":"datum.p=='P8'"},{"fold":["m"],"as":["k","y"]}],"mark":{"type":"line","interpolate":"monotone","color":"#555","strokeWidth":1.1},"encoding":{}},
    {"data":{"name":"pts"},"transform":[{"filter":"datum.p=='P8'"}],"mark":{"type":"circle","size":22,"fill":"#1f62c4","stroke":"#0e1e3a","strokeWidth":0.6,"opacity":1}}
   ]},
  {"width":204,"height":143,
   "encoding":{"x":{"field":"x","type":"quantitative","scale":{"domain":[-0.083,3.305],"nice":false,"zero":false},"axis":{"values":[0,0.5,1,1.5,2,2.5,3],"format":".1f","title":"BSA (m²)"}},
               "y":{"field":"y","type":"quantitative","scale":{"domain":[2.0,38.9],"nice":false,"zero":false},"axis":{"values":[5,10,15,20,25,30,35],"title":"Proximal Transverse arch dia Mean (mm)","titlePadding":13.4}}},
   "layer":[
    {"data":{"name":"curves"},"transform":[{"filter":"datum.p=='P9'"},{"fold":["u3","l3"],"as":["k","y"]}],"mark":{"type":"line","interpolate":"monotone","color":"#666","strokeWidth":0.8,"strokeDash":[4,2,1,2]},"encoding":{"detail":{"field":"k"}}},
    {"data":{"name":"curves"},"transform":[{"filter":"datum.p=='P9'"},{"fold":["u2","l2"],"as":["k","y"]}],"mark":{"type":"line","interpolate":"monotone","color":"#b5b5b5","strokeWidth":0.9,"strokeDash":[1.5,1.5]},"encoding":{"detail":{"field":"k"}}},
    {"data":{"name":"curves"},"transform":[{"filter":"datum.p=='P9'"},{"fold":["u1","l1"],"as":["k","y"]}],"mark":{"type":"line","interpolate":"monotone","color":"#555","strokeWidth":0.9,"strokeDash":[3,2]},"encoding":{"detail":{"field":"k"}}},
    {"data":{"name":"curves"},"transform":[{"filter":"datum.p=='P9'"},{"fold":["m"],"as":["k","y"]}],"mark":{"type":"line","interpolate":"monotone","color":"#555","strokeWidth":1.1},"encoding":{}},
    {"data":{"name":"pts"},"transform":[{"filter":"datum.p=='P9'"}],"mark":{"type":"circle","size":22,"fill":"#1f62c4","stroke":"#0e1e3a","strokeWidth":0.6,"opacity":1}}
   ]}
 ]},
 {"spacing": 25, "hconcat": [
  {"width":204,"height":143,
   "encoding":{"x":{"field":"x","type":"quantitative","scale":{"domain":[-0.111,3.308],"nice":false,"zero":false},"axis":{"values":[0,0.5,1,1.5,2,2.5,3],"format":".1f","title":"BSA (m²)"}},
               "y":{"field":"y","type":"quantitative","scale":{"domain":[1.5,39.05],"nice":false,"zero":false},"axis":{"values":[5,10,15,20,25,30,35],"title":"Tranverse distal arch dia Mean (mm)","titlePadding":27.7}}},
   "layer":[
    {"data":{"name":"curves"},"transform":[{"filter":"datum.p=='P10'"},{"fold":["u3","l3"],"as":["k","y"]}],"mark":{"type":"line","interpolate":"monotone","color":"#666","strokeWidth":0.8,"strokeDash":[4,2,1,2]},"encoding":{"detail":{"field":"k"}}},
    {"data":{"name":"curves"},"transform":[{"filter":"datum.p=='P10'"},{"fold":["u2","l2"],"as":["k","y"]}],"mark":{"type":"line","interpolate":"monotone","color":"#b5b5b5","strokeWidth":0.9,"strokeDash":[1.5,1.5]},"encoding":{"detail":{"field":"k"}}},
    {"data":{"name":"curves"},"transform":[{"filter":"datum.p=='P10'"},{"fold":["u1","l1"],"as":["k","y"]}],"mark":{"type":"line","interpolate":"monotone","color":"#555","strokeWidth":0.9,"strokeDash":[3,2]},"encoding":{"detail":{"field":"k"}}},
    {"data":{"name":"curves"},"transform":[{"filter":"datum.p=='P10'"},{"fold":["m"],"as":["k","y"]}],"mark":{"type":"line","interpolate":"monotone","color":"#555","strokeWidth":1.1},"encoding":{}},
    {"data":{"name":"pts"},"transform":[{"filter":"datum.p=='P10'"}],"mark":{"type":"circle","size":22,"fill":"#1f62c4","stroke":"#0e1e3a","strokeWidth":0.6,"opacity":1}}
   ]},
  {"width":204,"height":143,
   "encoding":{"x":{"field":"x","type":"quantitative","scale":{"domain":[-0.139,3.28],"nice":false,"zero":false},"axis":{"values":[0,0.5,1,1.5,2,2.5,3],"format":".1f","title":"BSA (m²)"}},
               "y":{"field":"y","type":"quantitative","scale":{"domain":[1.2,37.55],"nice":false,"zero":false},"axis":{"values":[5,10,15,20,25,30,35],"title":"Isthmus dia Mean (mm)","titlePadding":12}}},
   "layer":[
    {"data":{"name":"curves"},"transform":[{"filter":"datum.p=='P11'"},{"fold":["u3","l3"],"as":["k","y"]}],"mark":{"type":"line","interpolate":"monotone","color":"#666","strokeWidth":0.8,"strokeDash":[4,2,1,2]},"encoding":{"detail":{"field":"k"}}},
    {"data":{"name":"curves"},"transform":[{"filter":"datum.p=='P11'"},{"fold":["u2","l2"],"as":["k","y"]}],"mark":{"type":"line","interpolate":"monotone","color":"#b5b5b5","strokeWidth":0.9,"strokeDash":[1.5,1.5]},"encoding":{"detail":{"field":"k"}}},
    {"data":{"name":"curves"},"transform":[{"filter":"datum.p=='P11'"},{"fold":["u1","l1"],"as":["k","y"]}],"mark":{"type":"line","interpolate":"monotone","color":"#555","strokeWidth":0.9,"strokeDash":[3,2]},"encoding":{"detail":{"field":"k"}}},
    {"data":{"name":"curves"},"transform":[{"filter":"datum.p=='P11'"},{"fold":["m"],"as":["k","y"]}],"mark":{"type":"line","interpolate":"monotone","color":"#555","strokeWidth":1.1},"encoding":{}},
    {"data":{"name":"pts"},"transform":[{"filter":"datum.p=='P11'"}],"mark":{"type":"circle","size":22,"fill":"#1f62c4","stroke":"#0e1e3a","strokeWidth":0.6,"opacity":1}}
   ]},
  {"width":204,"height":143,
   "encoding":{"x":{"field":"x","type":"quantitative","scale":{"domain":[-0.111,3.29],"nice":false,"zero":false},"axis":{"values":[0,0.5,1,1.5,2,2.5,3],"format":".1f","title":"BSA (m²)"}},
               "y":{"field":"y","type":"quantitative","scale":{"domain":[2.3,27.7],"nice":false,"zero":false},"axis":{"values":[5,10,15,20,25],"title":"Descending Aorta dia Mean (mm)","titlePadding":22}}},
   "layer":[
    {"data":{"name":"curves"},"transform":[{"filter":"datum.p=='P12'"},{"fold":["u3","l3"],"as":["k","y"]}],"mark":{"type":"line","interpolate":"monotone","color":"#666","strokeWidth":0.8,"strokeDash":[4,2,1,2]},"encoding":{"detail":{"field":"k"}}},
    {"data":{"name":"curves"},"transform":[{"filter":"datum.p=='P12'"},{"fold":["u2","l2"],"as":["k","y"]}],"mark":{"type":"line","interpolate":"monotone","color":"#b5b5b5","strokeWidth":0.9,"strokeDash":[1.5,1.5]},"encoding":{"detail":{"field":"k"}}},
    {"data":{"name":"curves"},"transform":[{"filter":"datum.p=='P12'"},{"fold":["u1","l1"],"as":["k","y"]}],"mark":{"type":"line","interpolate":"monotone","color":"#555","strokeWidth":0.9,"strokeDash":[3,2]},"encoding":{"detail":{"field":"k"}}},
    {"data":{"name":"curves"},"transform":[{"filter":"datum.p=='P12'"},{"fold":["m"],"as":["k","y"]}],"mark":{"type":"line","interpolate":"monotone","color":"#555","strokeWidth":1.1},"encoding":{}},
    {"data":{"name":"pts"},"transform":[{"filter":"datum.p=='P12'"}],"mark":{"type":"circle","size":22,"fill":"#1f62c4","stroke":"#0e1e3a","strokeWidth":0.6,"opacity":1}}
   ]}
 ]}
]}
],
"config": {
 "view": {"stroke": "#808080", "strokeWidth": 1},
 "axis": {"grid": false, "domain": false, "ticks": false, "labelFont": "Liberation Sans", "labelFontSize": 7.5, "labelColor": "#333", "titleFont": "Liberation Sans", "titleFontSize": 8, "titleFontWeight": "normal", "titleColor": "#333", "labelFlush": false, "labelOverlap": false},
 "axisX": {"labelPadding": 12, "titlePadding": 5.5, "labelAngle": 0},
 "axisY": {"labelAngle": -90, "labelAlign": "center", "labelBaseline": "bottom", "labelPadding": 3},
 "title": {"anchor": "start", "font": "Open Sans", "fontSize": 17, "fontWeight": "normal", "color": "#222"}
}
}
